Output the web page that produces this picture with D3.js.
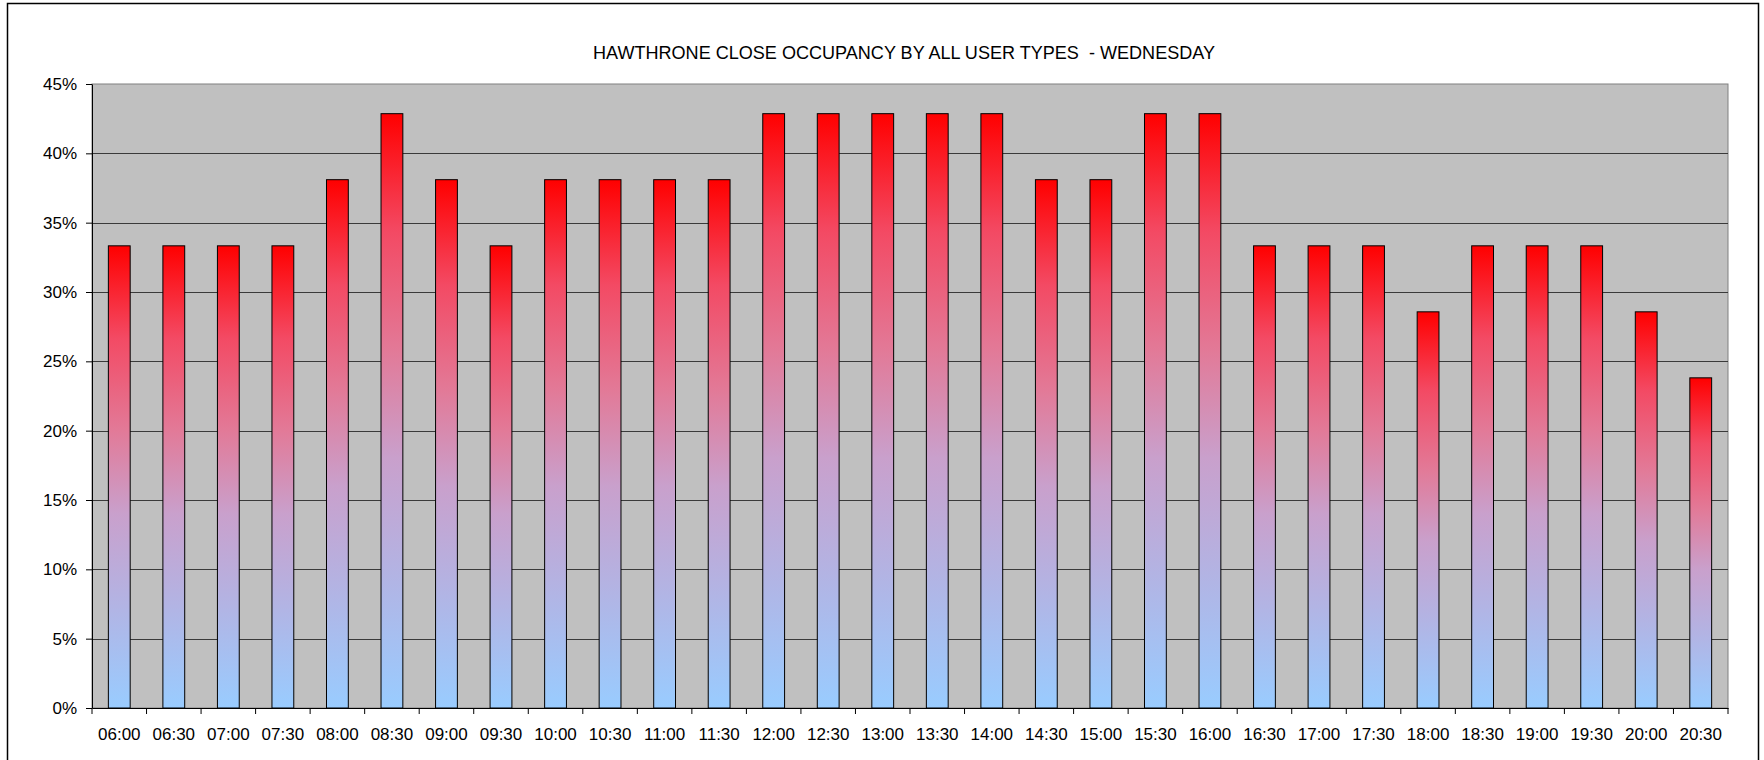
<!DOCTYPE html>
<html><head><meta charset="utf-8">
<script src="https://cdn.jsdelivr.net/npm/d3@7"></script>
<style>body{margin:0;background:#fff;}svg{display:block;font-family:"Liberation Sans",Arial,sans-serif;}</style>
</head><body>
<svg id="c" width="1764" height="760"></svg>
<script>
const categories = ["06:00","06:30","07:00","07:30","08:00","08:30","09:00","09:30","10:00","10:30","11:00","11:30","12:00","12:30","13:00","13:30","14:00","14:30","15:00","15:30","16:00","16:30","17:00","17:30","18:00","18:30","19:00","19:30","20:00","20:30"];
const occupancy = [33.33,33.33,33.33,33.33,38.10,42.86,38.10,33.33,38.10,38.10,38.10,38.10,42.86,42.86,42.86,42.86,42.86,38.10,38.10,42.86,42.86,33.33,33.33,33.33,28.57,33.33,33.33,33.33,28.57,23.81];
const yTicks = [0,5,10,15,20,25,30,35,40,45];
const title = "HAWTHRONE CLOSE OCCUPANCY BY ALL USER TYPES  - WEDNESDAY";

const svg = d3.select("#c");
const L = 92, R = 1728, T = 84, B = 708;

// outer frame
svg.append("rect").attr("x",7.5).attr("y",3.5).attr("width",1751).attr("height",780)
  .attr("fill","#fff").attr("stroke","#000").attr("stroke-width",1.5);

const defs = svg.append("defs");
const g = defs.append("linearGradient").attr("id","bg").attr("x1",0).attr("y1",0).attr("x2",0).attr("y2",1);
[[0,"#FF0000"],[0.2,"#F34A64"],[0.4,"#E27A98"],[0.58,"#C9A0CC"],[0.78,"#B2B4E4"],[1,"#99CCFF"]]
  .forEach(([o,c])=>g.append("stop").attr("offset",o).attr("stop-color",c));

const x = d3.scaleBand().domain(categories).range([L,R]).paddingInner(0.6).paddingOuter(0.3);
const y = d3.scaleLinear().domain([0,45]).range([B,T]);

svg.append("rect").attr("x",L).attr("y",T).attr("width",R-L).attr("height",B-T).attr("fill","#C0C0C0")
  .attr("stroke","#808080").attr("stroke-width",1);

svg.append("g").selectAll("line").data(yTicks.filter(d=>d>0 && d<45)).join("line")
  .attr("x1",L).attr("x2",R).attr("y1",d=>Math.round(y(d))+0.5).attr("y2",d=>Math.round(y(d))+0.5)
  .attr("stroke","#3a3a3a").attr("stroke-width",1);

svg.append("g").selectAll("rect").data(occupancy).join("rect")
  .attr("x",(d,i)=>x(categories[i])).attr("width",x.bandwidth())
  .attr("y",d=>y(d)).attr("height",d=>B-y(d))
  .attr("fill","url(#bg)").attr("stroke","#000").attr("stroke-width",1);

const ya = svg.append("g").attr("transform",`translate(${L},0)`)
  .call(d3.axisLeft(y).tickValues(yTicks).tickFormat(d=>d+"%").tickSize(6).tickSizeOuter(0));
ya.select(".domain").attr("stroke","#000");
ya.selectAll("text").attr("font-size",17).attr("fill","#000").attr("font-family","Liberation Sans, Arial, sans-serif").attr("dx",-6);

const xb = d3.scaleBand().domain(categories).range([L,R]);
const xa = svg.append("g").attr("transform",`translate(0,${B})`)
  .call(d3.axisBottom(xb).tickSize(0).tickSizeOuter(0));
xa.select(".domain").attr("stroke","#000");
xa.selectAll("text").attr("font-size",17).attr("fill","#000").attr("dy","1.7em").attr("font-family","Liberation Sans, Arial, sans-serif");
// tick marks at category boundaries
svg.append("g").selectAll("line").data(d3.range(categories.length+1)).join("line")
  .attr("x1",i=>L+i*xb.step()).attr("x2",i=>L+i*xb.step())
  .attr("y1",B).attr("y2",B+6).attr("stroke","#000");

svg.append("text").attr("x",(L+R)/2 - 6).attr("y",59).attr("text-anchor","middle")
  .attr("font-size",17.5).attr("fill","#000").attr("textLength",622).attr("lengthAdjust","spacingAndGlyphs")
  .style("white-space","pre").text(title);
</script>
</body></html>
